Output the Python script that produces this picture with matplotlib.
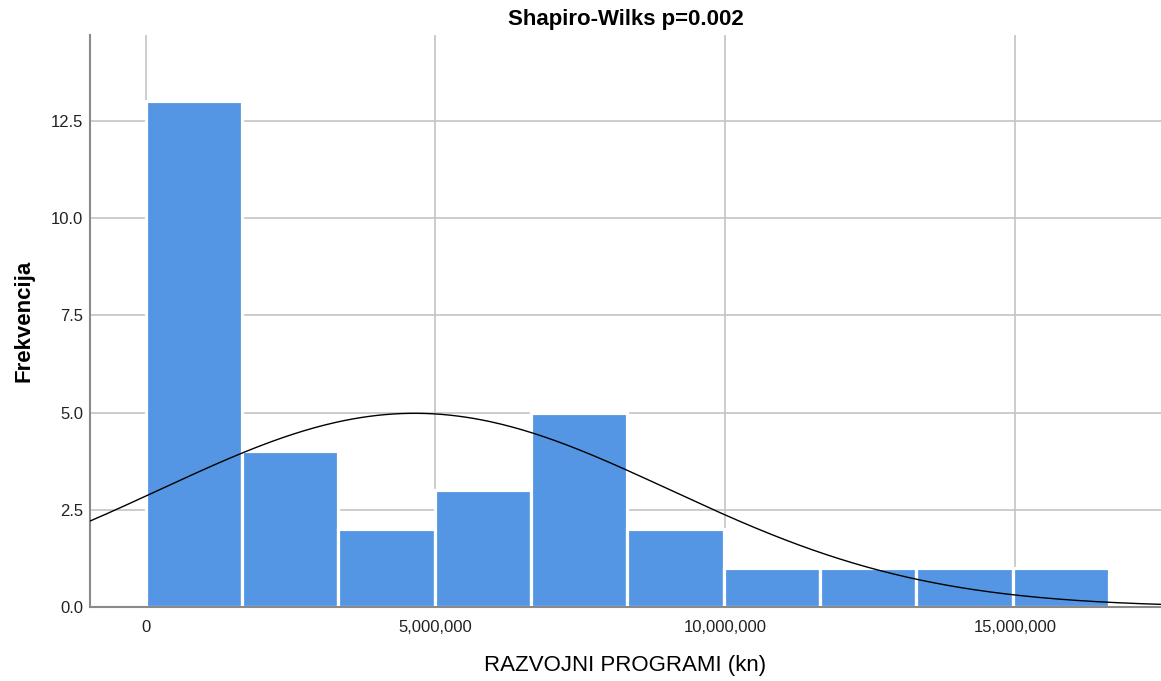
import numpy as np
import matplotlib
matplotlib.use("Agg")
import matplotlib.pyplot as plt
from matplotlib.ticker import FuncFormatter

plt.rcParams['font.family'] = ['Liberation Sans', 'DejaVu Sans']

bin_width = 1_661_000
bin_starts = [i * bin_width for i in range(10)]
counts = [13, 4, 2, 3, 5, 2, 1, 1, 1, 1]
mean = 4_640_000
sd = 4_390_000
n_total = sum(counts)

x_ticks = [0, 5_000_000, 10_000_000, 15_000_000]
y_ticks = [0.0, 2.5, 5.0, 7.5, 10.0, 12.5]

fig = plt.figure(figsize=(11.61, 6.81), dpi=100)
ax = fig.add_axes([90/1161, 1-607/681, 1-90/1161, (607-35)/681])

ax.bar(bin_starts, counts, width=bin_width, align='edge', color='#5496e3',
       edgecolor='white', linewidth=2.3, zorder=2)

xs = np.linspace(-1_000_000, 17_600_000, 400)
ys = n_total * bin_width * np.exp(-0.5 * ((xs - mean) / sd) ** 2) / (sd * np.sqrt(2 * np.pi))
ax.plot(xs, ys, color='black', linewidth=1.0, zorder=3)

ax.set_xlim(-957_000, 17_509_000)
ax.set_ylim(0, 14.71)
ax.set_xticks(x_ticks)
ax.set_yticks(y_ticks)
ax.xaxis.set_major_formatter(FuncFormatter(lambda v, p: f"{int(v):,}"))
ax.yaxis.set_major_formatter(FuncFormatter(lambda v, p: f"{v:.1f}"))
ax.tick_params(length=0, labelsize=12, colors='#222222')
ax.tick_params(axis='y', pad=5)
ax.tick_params(axis='x', pad=9)
ax.grid(True, color='#c4c4c4', linewidth=1.2, zorder=0)
ax.set_axisbelow(True)
for s in ['top', 'right']:
    ax.spines[s].set_visible(False)
for s in ['left', 'bottom']:
    ax.spines[s].set_color('#8a8a8a')
    ax.spines[s].set_linewidth(1.5)

ax.set_title('Shapiro-Wilks p=0.002', fontsize=16, fontweight='bold', pad=7)
ax.set_xlabel('RAZVOJNI PROGRAMI (kn)', fontsize=16, labelpad=15)
ax.set_ylabel('Frekvencija', fontsize=16, fontweight='bold', labelpad=12)

fig.savefig('out.png', dpi=100)
